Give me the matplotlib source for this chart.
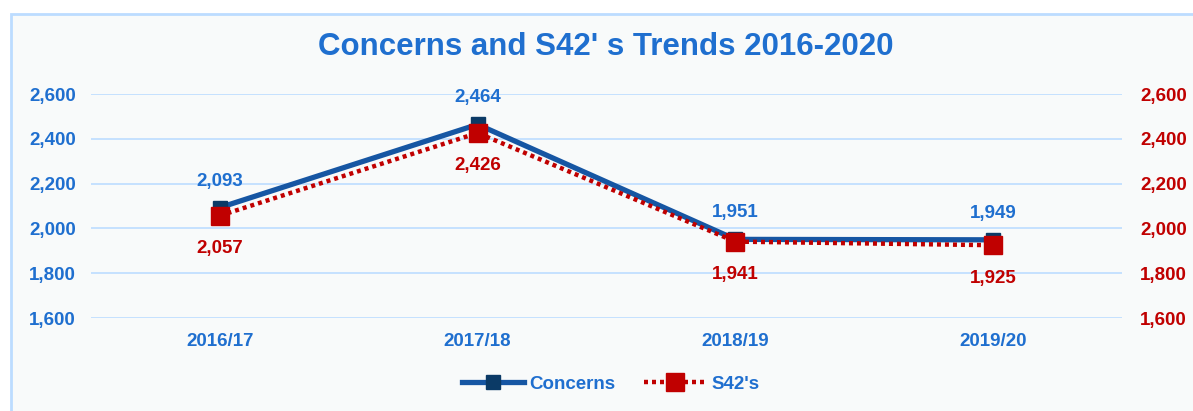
import matplotlib.pyplot as plt
from matplotlib.patches import Rectangle
from matplotlib.ticker import FuncFormatter

# dados
anos = ['2016/17', '2017/18', '2018/19', '2019/20']
concerns = [2093, 2464, 1951, 1949]
s42 = [2057, 2426, 1941, 1925]
ticks_y = [1600, 1800, 2000, 2200, 2400, 2600]

azul = '#1f6fcf'
azul_linha = '#1656a3'
azul_marc = '#0b3a66'
vermelho = '#c00000'
grade = '#bcdcff'
fs = 13.5

plt.rcParams['font.family'] = ['Liberation Sans', 'DejaVu Sans']

fig = plt.figure(figsize=(11.93, 4.11), dpi=100)
fig.patch.set_facecolor('white')
# moldura do gráfico
fig.patches.append(Rectangle((11 / 1193, -0.05), 1.1, 1 - 14 / 411 + 0.05,
                             transform=fig.transFigure, facecolor='#f8fafa',
                             edgecolor=grade, linewidth=2, zorder=-5))

ax = fig.add_axes([91 / 1193, 1 - 318 / 411, 1031 / 1193, 224 / 411])
ax.set_facecolor('none')
x = list(range(len(anos)))

ax.plot(x, concerns, color=azul_linha, lw=3.8, marker='s', ms=10.5,
        mfc=azul_marc, mec=azul_marc, label='Concerns', zorder=3)
ax.plot(x, s42, color=vermelho, lw=3.2, ls=(0, (0.9, 0.9)), marker='s', ms=13.5,
        mfc=vermelho, mec=vermelho, label="S42's", zorder=4)

for i in x:
    ax.annotate(f'{concerns[i]:,}', (i, concerns[i]), xytext=(0, 13), textcoords='offset points',
                ha='center', va='bottom', color=azul, fontsize=fs, fontweight='bold')
    ax.annotate(f'{s42[i]:,}', (i, s42[i]), xytext=(0, -17.5), textcoords='offset points',
                ha='center', va='top', color=vermelho, fontsize=fs, fontweight='bold')

ax.set_xlim(-0.5, len(anos) - 0.5)
ax.set_ylim(1600, 2600)
ax.set_yticks(ticks_y)
ax.yaxis.set_major_formatter(FuncFormatter(lambda v, p: f'{int(v):,}'))
ax.set_xticks(x)
ax.set_xticklabels(anos)
ax.grid(axis='y', color=grade, lw=1.2)
ax.set_axisbelow(True)
for s in ax.spines.values():
    s.set_visible(False)
ax.tick_params(axis='both', length=0, labelsize=fs, labelcolor=azul)
ax.tick_params(axis='y', pad=11)
ax.tick_params(axis='x', pad=11)
for t in ax.get_xticklabels() + ax.get_yticklabels():
    t.set_fontweight('bold')

ax2 = ax.twinx()
ax2.set_ylim(1600, 2600)
ax2.set_yticks(ticks_y)
ax2.yaxis.set_major_formatter(FuncFormatter(lambda v, p: f'{int(v):,}'))
for s in ax2.spines.values():
    s.set_visible(False)
ax2.tick_params(axis='y', length=0, labelsize=fs, labelcolor=vermelho, pad=13)
for t in ax2.get_yticklabels():
    t.set_fontweight('bold')

fig.text(0.508, 1 - 47 / 411, "Concerns and S42' s Trends 2016-2020", ha='center', va='center',
         fontsize=22.5, fontweight='bold', color=azul)

ax.legend(loc='center', bbox_to_anchor=(0.512, 1 - 384 / 411), bbox_transform=fig.transFigure,
          ncol=2, frameon=False, labelcolor=azul, handlelength=3.3,
          columnspacing=1.5, handletextpad=0.3, prop={'weight': 'bold', 'size': fs})

fig.savefig('out.png', dpi=100)
